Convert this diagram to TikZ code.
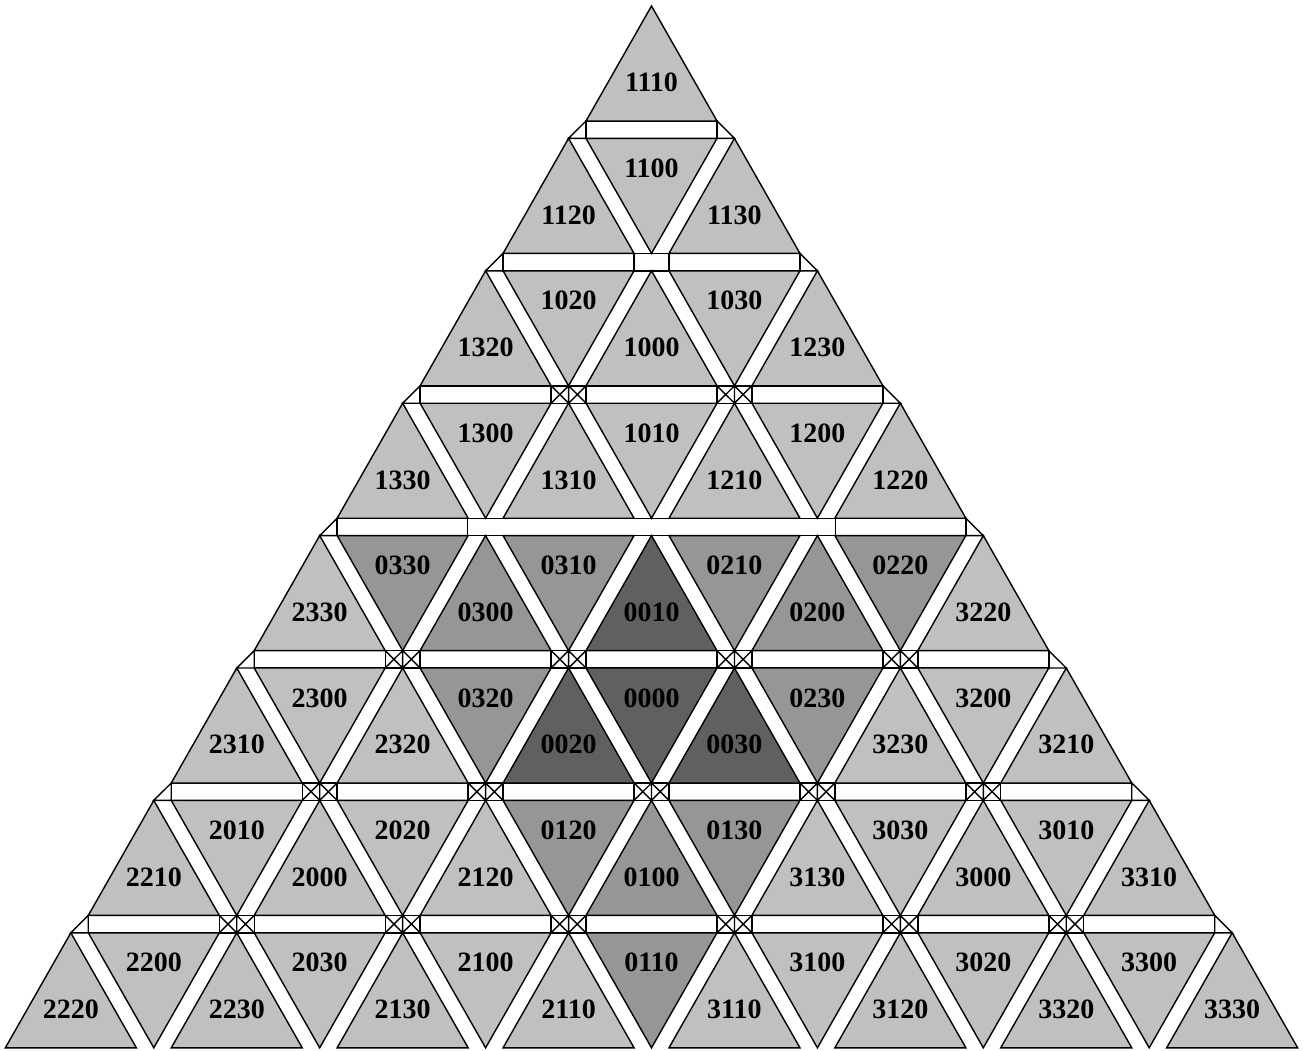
\documentclass[tikz,border=0pt]{standalone}
\usepackage{fontspec}
\setmainfont{Liberation Serif}
\definecolor{lightg}{HTML}{C0C0C0}
\definecolor{midg}{HTML}{969696}
\definecolor{darkg}{HTML}{606060}
\def\xc{651.5}\def\yt{6}\def\hh{115}\def\gg{17.4}\def\bb{131}\def\pp{165.9}\def\ss{17.45}
\tikzset{
 tri/.style={draw=black,line width=1.4pt,line join=miter},
 strip/.style={draw=black,fill=white,line width=1.4pt},
 thin/.style={draw=black,line width=1.4pt},
 lab/.style={font=\bfseries\fontsize{28}{28}\selectfont,inner sep=0pt}
}
\newcommand\uptri[4]{%
 \pgfmathsetmacro\Lx{\xc-\bb/2-#1*\pp/2+#2*\pp}%
 \pgfmathsetmacro\Ty{\yt+#1*(\hh+\gg)}%
 \filldraw[tri,fill=#4] (\Lx,\Ty+\hh) -- (\Lx+\bb,\Ty+\hh) -- (\Lx+\bb/2,\Ty) -- cycle;
 \node[lab] (t#3) at (\Lx+\bb/2,\Ty+2*\hh/3) {#3};}
\newcommand\dntri[4]{%
 \pgfmathsetmacro\Lx{\xc-\bb/2-#1*\pp/2+#2*\pp+\pp/2}%
 \pgfmathsetmacro\Ty{\yt+#1*(\hh+\gg)}%
 \filldraw[tri,fill=#4] (\Lx,\Ty) -- (\Lx+\bb,\Ty) -- (\Lx+\bb/2,\Ty+\hh) -- cycle;
 \node[lab] (t#3) at (\Lx+\bb/2,\Ty+30) {#3};}
\newcommand\hrect[2]{%
 \pgfmathsetmacro\Ya{\yt+#1*(\hh+\gg)+\hh}%
 \pgfmathsetmacro\Lk{\xc-\bb/2-#1*\pp/2+#2*\pp}%
 \filldraw[strip] (\Lk,\Ya) rectangle (\Lk+\bb,\Ya+\gg);}
\newcommand\corners[1]{%
 \pgfmathsetmacro\Ya{\yt+#1*(\hh+\gg)+\hh}%
 \pgfmathsetmacro\La{\xc-\bb/2-#1*\pp/2}%
 \pgfmathsetmacro\Ra{\La+#1*\pp+\bb}%
 \filldraw[strip] (\La,\Ya) -- (\La,\Ya+\gg) -- (\La-\ss,\Ya+\gg) -- cycle;
 \filldraw[strip] (\Ra,\Ya) -- (\Ra,\Ya+\gg) -- (\Ra+\ss,\Ya+\gg) -- cycle;}
\newcommand\junc[3]{%
 \pgfmathsetmacro\Ya{\yt+#1*(\hh+\gg)+\hh}%
 \pgfmathsetmacro\cx{\xc-\bb/2-#1*\pp/2+#2*\pp-\ss}%
 \filldraw[strip] (\cx-\ss,\Ya) rectangle (\cx+\ss,\Ya+\gg);
 \ifnum#3=2
 \draw[thin] (\cx-\ss,\Ya) -- (\cx,\Ya+\gg) (\cx,\Ya) -- (\cx+\ss,\Ya+\gg)
   (\cx+\ss,\Ya) -- (\cx,\Ya+\gg) (\cx,\Ya) -- (\cx-\ss,\Ya+\gg)
   (\cx,\Ya) -- (\cx,\Ya+\gg);
 \fi}
\begin{document}
\begin{tikzpicture}[x=1pt,y=-1pt]
\fill[white] (0,0) rectangle (1306,1051);
\useasboundingbox (0,0) rectangle (1306,1051);
\foreach \r in {0,1,2,4,5,6}{\corners{\r}\foreach \k in {0,...,\r}{\hrect{\r}{\k}}}
\junc{1}{1}{1}
\foreach \k in {1,2}{\junc{2}{\k}{2}}
\foreach \k in {1,...,4}{\junc{4}{\k}{2}}
\foreach \k in {1,...,5}{\junc{5}{\k}{2}}
\foreach \k in {1,...,6}{\junc{6}{\k}{2}}
\corners{3}\hrect{3}{0}\hrect{3}{3}
\pgfmathsetmacro\Ya{\yt+3*(\hh+\gg)+\hh}
\pgfmathsetmacro\La{\xc-\bb/2-3*\pp/2+\bb}
\pgfmathsetmacro\Lb{\xc-\bb/2-3*\pp/2+3*\pp}
\fill[white] (\La,\Ya) rectangle (\Lb,\Ya+\gg);
\draw[thin] (\La,\Ya) -- (\Lb,\Ya) (\La,\Ya+\gg) -- (\Lb,\Ya+\gg);
\uptri{0}{0}{1110}{lightg}
\uptri{1}{0}{1120}{lightg}\uptri{1}{1}{1130}{lightg}
\dntri{1}{0}{1100}{lightg}
\uptri{2}{0}{1320}{lightg}\uptri{2}{1}{1000}{lightg}\uptri{2}{2}{1230}{lightg}
\dntri{2}{0}{1020}{lightg}\dntri{2}{1}{1030}{lightg}
\uptri{3}{0}{1330}{lightg}\uptri{3}{1}{1310}{lightg}\uptri{3}{2}{1210}{lightg}\uptri{3}{3}{1220}{lightg}
\dntri{3}{0}{1300}{lightg}\dntri{3}{1}{1010}{lightg}\dntri{3}{2}{1200}{lightg}
\uptri{4}{0}{2330}{lightg}\uptri{4}{1}{0300}{midg}\uptri{4}{2}{0010}{darkg}\uptri{4}{3}{0200}{midg}\uptri{4}{4}{3220}{lightg}
\dntri{4}{0}{0330}{midg}\dntri{4}{1}{0310}{midg}\dntri{4}{2}{0210}{midg}\dntri{4}{3}{0220}{midg}
\uptri{5}{0}{2310}{lightg}\uptri{5}{1}{2320}{lightg}\uptri{5}{2}{0020}{darkg}\uptri{5}{3}{0030}{darkg}\uptri{5}{4}{3230}{lightg}\uptri{5}{5}{3210}{lightg}
\dntri{5}{0}{2300}{lightg}\dntri{5}{1}{0320}{midg}\dntri{5}{2}{0000}{darkg}\dntri{5}{3}{0230}{midg}\dntri{5}{4}{3200}{lightg}
\uptri{6}{0}{2210}{lightg}\uptri{6}{1}{2000}{lightg}\uptri{6}{2}{2120}{lightg}\uptri{6}{3}{0100}{midg}\uptri{6}{4}{3130}{lightg}\uptri{6}{5}{3000}{lightg}\uptri{6}{6}{3310}{lightg}
\dntri{6}{0}{2010}{lightg}\dntri{6}{1}{2020}{lightg}\dntri{6}{2}{0120}{midg}\dntri{6}{3}{0130}{midg}\dntri{6}{4}{3030}{lightg}\dntri{6}{5}{3010}{lightg}
\uptri{7}{0}{2220}{lightg}\uptri{7}{1}{2230}{lightg}\uptri{7}{2}{2130}{lightg}\uptri{7}{3}{2110}{lightg}\uptri{7}{4}{3110}{lightg}\uptri{7}{5}{3120}{lightg}\uptri{7}{6}{3320}{lightg}\uptri{7}{7}{3330}{lightg}
\dntri{7}{0}{2200}{lightg}\dntri{7}{1}{2030}{lightg}\dntri{7}{2}{2100}{lightg}\dntri{7}{3}{0110}{midg}\dntri{7}{4}{3100}{lightg}\dntri{7}{5}{3020}{lightg}\dntri{7}{6}{3300}{lightg}
\end{tikzpicture}
\end{document}
